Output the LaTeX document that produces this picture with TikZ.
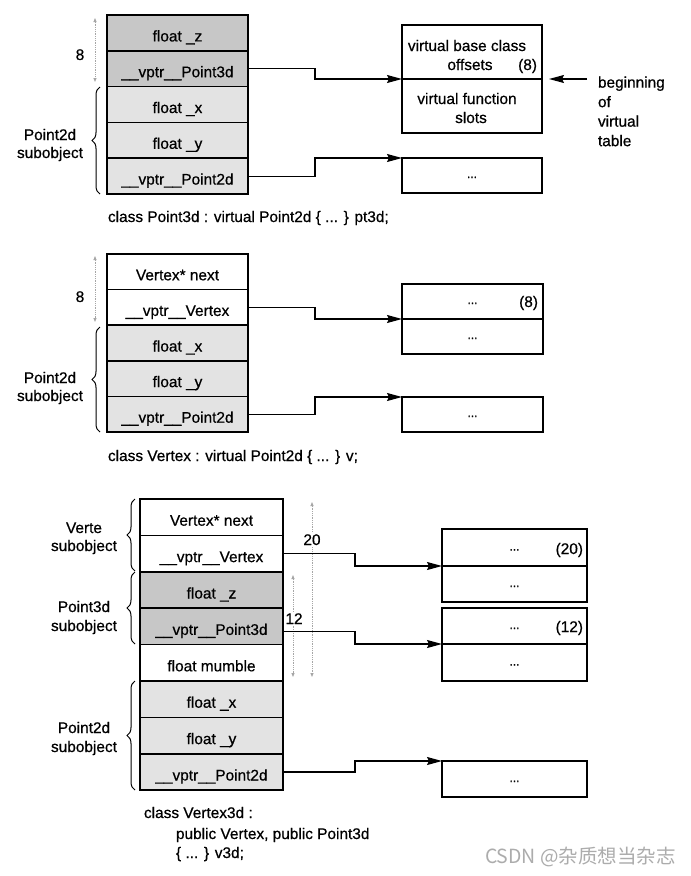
\documentclass[tikz,border=0pt]{standalone}
\usepackage{fontspec}
\setmainfont{Liberation Sans}
\newfontfamily\heavy{Liberation Sans}[FakeBold=0.6]
\newfontfamily\cjkfont{Noto Sans CJK SC}
\usetikzlibrary{arrows.meta,decorations.pathreplacing,calc}
\definecolor{darkrow}{gray}{0.78}
\definecolor{lightrow}{gray}{0.89}
\begin{document}
\begin{tikzpicture}[x=1pt,y=-1pt,
  every node/.style={inner sep=0pt, outer sep=0pt},
  txt/.style={font=\heavy\fontsize{15.4}{19.5}\selectfont},
  dots/.style={font=\heavy\fontsize{12}{14}\selectfont, anchor=base},
  rowbox/.style={draw, line width=1.5pt, anchor=north west, text height=17pt, text depth=0pt, txt},
  rowA/.style={rowbox, minimum width=141pt, minimum height=35.8pt},
  rowB/.style={rowbox, minimum width=141pt, minimum height=35.6pt},
  rowC/.style={rowbox, minimum width=143pt, minimum height=36.4pt},
  vbox/.style={draw, line width=1.2pt, anchor=north west},
  midline/.style={line width=2.2pt},
  conn/.style={line width=1.1pt, arrows={-Stealth[length=15pt,width=8pt,inset=2pt]}},
  dim/.style={densely dotted, gray!70, line width=0.8pt, arrows={Triangle[length=4pt,width=3pt]-Triangle[length=4pt,width=3pt]}},
  brc/.style={decorate, decoration={brace, amplitude=8pt}, line width=1pt},
  lab/.style={txt, anchor=base},
]
\fill[white] (0,0) rectangle (691,876);
\useasboundingbox (0,0) rectangle (691,876);

% ---------------- Section 1 ----------------
\node[rowA, fill=darkrow] (a1) at (107,15) {float \_z};
\node[rowA, fill=darkrow] (a2) at (a1.south west) {\_\_vptr\_\_Point3d};
\node[rowA, fill=lightrow] (a3) at (a2.south west) {float \_x};
\node[rowA, fill=lightrow] (a4) at (a3.south west) {float \_y};
\node[rowA, fill=lightrow] (a5) at (a4.south west) {\_\_vptr\_\_Point2d};

\coordinate (d1t) at (95,18);
\coordinate (d1b) at (95,82);
\draw[dim] (d1t) -- (d1b);
\node[lab] (n8a) at (80,60) {8};

\coordinate (br1b) at (100,194);
\coordinate (br1t) at (100,87);
\draw[brc] (br1b) -- (br1t);
\node[lab] (l1a) at (50,140) {Point2d};
\node[lab] (l1b) at (50,158) {subobject};

\node[vbox, minimum width=140pt, minimum height=54pt] (v1a) at (402,25) {};
\node[vbox, minimum width=140pt, minimum height=54pt] (v1b) at (v1a.south west) {};
\draw[midline] (v1a.south west) -- (v1a.south east);
\node[lab] (t1) at (467,51) {virtual base class};
\node[lab] (t2) at (470,70) {offsets};
\node[txt, anchor=base east] (t3) at (537,70) {(8)};
\node[lab] (t4) at (467,104) {virtual function};
\node[lab] (t5) at (471,123) {slots};

\node[txt, anchor=north west, align=left] (beg) at (598,76.5) {beginning\\of\\virtual\\table};
\draw[conn] ($(beg.west |- v1a.south east)+(-11,0)$) -- ($(v1a.south east)+(7,0)$);

\node[vbox, minimum width=140pt, minimum height=35pt] (v2) at (402,158) {};
\node[dots] (v2d) at ([yshift=-2.5pt]v2.center) {...};

\draw[conn] (a2.east) -- ++(67,0) |- (v1a.south west);
\draw[conn] (a5.east) -- ++(67,0) |- (v2.north west);

\node[txt, anchor=base west] (cap1) at (108,222) {class Point3d : virtual Point2d \{ ... \} pt3d;};

% ---------------- Section 2 ----------------
\node[rowB, fill=white] (b1) at (107,254) {Vertex* next};
\node[rowB, fill=white] (b2) at (b1.south west) {\_\_vptr\_\_Vertex};
\node[rowB, fill=lightrow] (b3) at (b2.south west) {float \_x};
\node[rowB, fill=lightrow] (b4) at (b3.south west) {float \_y};
\node[rowB, fill=lightrow] (b5) at (b4.south west) {\_\_vptr\_\_Point2d};

\coordinate (d2t) at (95,256);
\coordinate (d2b) at (95,322);
\draw[dim] (d2t) -- (d2b);
\node[lab] (n8b) at (80,302) {8};

\coordinate (br2b) at (100,432);
\coordinate (br2t) at (100,327);
\draw[brc] (br2b) -- (br2t);
\node[lab] (l2a) at (50,383) {Point2d};
\node[lab] (l2b) at (50,401) {subobject};

\node[vbox, minimum width=141pt, minimum height=35pt] (v3a) at (402,284) {};
\node[vbox, minimum width=141pt, minimum height=35pt] (v3b) at (v3a.south west) {};
\draw[midline] (v3a.south west) -- (v3a.south east);
\node[dots] (v3d1) at ([yshift=-2.5pt]v3a.center) {...};
\node[txt, anchor=base east] (v3n) at (538,307) {(8)};
\node[dots] (v3d2) at ([yshift=-2.5pt]v3b.center) {...};

\node[vbox, minimum width=141pt, minimum height=35pt] (v4) at (402,397) {};
\node[dots] (v4d) at ([yshift=-2.5pt]v4.center) {...};

\draw[conn] (b2.east) -- ++(67,0) |- (v3a.south west);
\draw[conn] (b5.east) -- ++(67,0) |- (v4.north west);

\node[txt, anchor=base west] (cap2) at (108,461) {class Vertex : virtual Point2d \{ ... \} v;};

% ---------------- Section 3 ----------------
\node[rowC, fill=white] (r1) at (140,499) {Vertex* next};
\node[rowC, fill=white] (r2) at (r1.south west) {\_\_vptr\_\_Vertex};
\node[rowC, fill=darkrow] (r3) at (r2.south west) {float \_z};
\node[rowC, fill=darkrow] (r4) at (r3.south west) {\_\_vptr\_\_Point3d};
\node[rowC, fill=white] (r5) at (r4.south west) {float mumble};
\node[rowC, fill=lightrow] (r6) at (r5.south west) {float \_x};
\node[rowC, fill=lightrow] (r7) at (r6.south west) {float \_y};
\node[rowC, fill=lightrow] (r8) at (r7.south west) {\_\_vptr\_\_Point2d};

\coordinate (br3b) at (135,571);
\coordinate (br3t) at (135,499);
\draw[brc] (br3b) -- (br3t);
\coordinate (br4b) at (135,644);
\coordinate (br4t) at (135,572);
\draw[brc] (br4b) -- (br4t);
\coordinate (br5b) at (135,790);
\coordinate (br5t) at (135,681);
\draw[brc] (br5b) -- (br5t);
\node[lab] (l3a) at (84,533) {Verte};
\node[lab] (l3b) at (84,551) {subobject};
\node[lab] (l4a) at (84,612) {Point3d};
\node[lab] (l4b) at (84,631) {subobject};
\node[lab] (l5a) at (84,733) {Point2d};
\node[lab] (l5b) at (84,752) {subobject};

\coordinate (d3t) at (312,502);
\coordinate (d3b) at (312,677);
\draw[dim] (d3t) -- (d3b);
\coordinate (d4t) at (293,575);
\coordinate (d4b) at (293,677);
\draw[dim] (d4t) -- (d4b);

\node[vbox, minimum width=145pt, minimum height=37pt] (v5a) at (442,529) {};
\node[vbox, minimum width=145pt, minimum height=36pt] (v5b) at (v5a.south west) {};
\draw[midline] (v5a.south west) -- (v5a.south east);
\node[dots] (v5d1) at ([yshift=-3pt]v5a.center) {...};
\node[txt, anchor=base east] (v5n) at (583,554) {(20)};
\node[dots] (v5d2) at ([yshift=-3pt]v5b.center) {...};

\node[vbox, minimum width=145pt, minimum height=36pt] (v6a) at (442,608) {};
\node[vbox, minimum width=145pt, minimum height=37pt] (v6b) at (v6a.south west) {};
\draw[midline] (v6a.south west) -- (v6a.south east);
\node[dots] (v6d1) at ([yshift=-3pt]v6a.center) {...};
\node[txt, anchor=base east] (v6n) at (583,632) {(12)};
\node[dots] (v6d2) at ([yshift=-3pt]v6b.center) {...};

\node[vbox, minimum width=145pt, minimum height=36pt] (v7) at (442,761) {};
\node[dots] (v7d) at ([yshift=-3pt]v7.center) {...};

\draw[conn] (r2.east) -- ++(72,0) |- (v5a.south west);
\draw[conn] ([yshift=-5.5pt]r4.east) -- ++(72,0) |- (v6a.south west);
\draw[conn] (r8.east) -- ++(72,0) |- (v7.north west);

\node[txt, fill=white, inner sep=1pt, anchor=base] (n20) at (312,545) {20};
\node[txt, fill=white, inner sep=1pt, anchor=base] (n12) at (294,624) {12};

\node[txt, anchor=base west] (cap3a) at (144,818) {class Vertex3d :};
\node[txt, anchor=base west] (cap3b) at (176,839) {public Vertex, public Point3d};
\node[txt, anchor=base west] (cap3c) at (176,858) {\{ ... \} v3d;};

\node[anchor=base west, font=\cjkfont\fontsize{19.5}{21}\selectfont, text=gray!65] (wm) at (485,863) {CSDN @杂质想当杂志};
\end{tikzpicture}
\end{document}
